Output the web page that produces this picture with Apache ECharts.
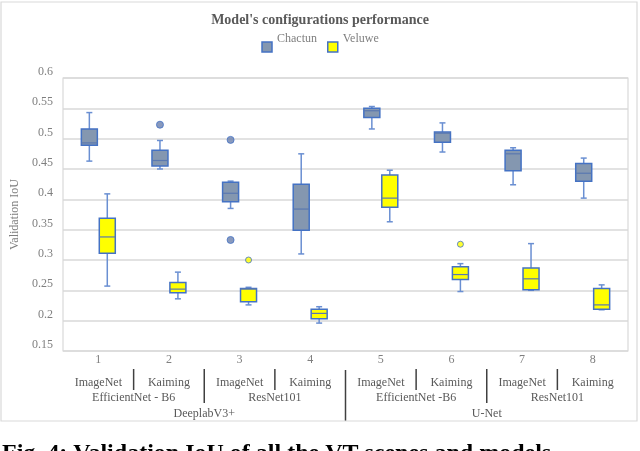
<!DOCTYPE html>
<html>
<head>
<meta charset="utf-8">
<script src="https://cdn.jsdelivr.net/npm/echarts@6/dist/echarts.min.js"></script>
<style>
  html, body { margin: 0; padding: 0; background: #fff; }
  #chart { width: 640px; height: 451px; }
</style>
</head>
<body>
<div id="chart"></div>
<script>
// categories and the label rows under them
const categories = ['1', '2', '3', '4', '5', '6', '7', '8'];
const initLabels = ['ImageNet', 'Kaiming', 'ImageNet', 'Kaiming', 'ImageNet', 'Kaiming', 'ImageNet', 'Kaiming'];
const backboneLabels = ['EfficientNet - B6', 'ResNet101', 'EfficientNet -B6', 'ResNet101'];
const archLabels = ['DeeplabV3+', 'U-Net'];

// [min, Q1, median, Q3, max]
const chactunBoxes = [
    [0.463, 0.489, 0.493, 0.516, 0.543],
    [0.450, 0.455, 0.464, 0.481, 0.497],
    [0.385, 0.396, 0.410, 0.428, 0.430],
    [0.310, 0.349, 0.384, 0.425, 0.475],
    [0.516, 0.535, 0.546, 0.550, 0.553],
    [0.478, 0.494, 0.509, 0.511, 0.526],
    [0.424, 0.447, 0.475, 0.481, 0.485],
    [0.402, 0.430, 0.443, 0.459, 0.468]
];
const veluweBoxes = [
    [0.257, 0.311, 0.338, 0.369, 0.409],
    [0.236, 0.246, 0.252, 0.263, 0.280],
    [0.226, 0.231, 0.252, 0.253, 0.255],
    [0.196, 0.203, 0.212, 0.219, 0.223],
    [0.363, 0.387, 0.402, 0.440, 0.448],
    [0.248, 0.268, 0.276, 0.289, 0.294],
    [0.250, 0.251, 0.269, 0.287, 0.327],
    [0.218, 0.219, 0.226, 0.253, 0.259]
];
// [category index, value]
const chactunOutliers = [[1, 0.523], [2, 0.498], [2, 0.333]];
const veluweOutliers = [[2, 0.300], [5, 0.326]];

const yMin = 0.15, yMax = 0.6, yStep = 0.05;

const FONT = 'Liberation Serif';
const TEXT = '#595959';
const LIGHT_TEXT = '#7f7f7f';
const BLUE = '#4472c4';
const WHISKER = '#6a8fd2';
const CHACTUN_FILL = '#8497b0';
const VELUWE_FILL = '#ffff00';
const GRID = { left: 63, right: 12, top: 78, bottom: 100 };
const SHIFT = 0.127; // box offset from category centre, share of band

const chart = echarts.init(document.getElementById('chart'));

function toRows(boxes) {
    return boxes.map((b, i) => [i].concat(b));
}

function boxRenderer(dir) {
    return function (params, api) {
        const cat = api.value(0);
        const band = api.size([1, 0])[0];
        const x = api.coord([cat, api.value(1)])[0] + dir * band * SHIFT;
        const y = i => api.coord([cat, api.value(i)])[1];
        const half = 8, cap = 3;
        const whisker = { stroke: WHISKER, lineWidth: 1.5 };
        return {
            type: 'group',
            children: [
                { type: 'line', shape: { x1: x, y1: y(5), x2: x, y2: y(4) }, style: whisker },
                { type: 'line', shape: { x1: x, y1: y(2), x2: x, y2: y(1) }, style: whisker },
                { type: 'line', shape: { x1: x - cap, y1: y(5), x2: x + cap, y2: y(5) }, style: whisker },
                { type: 'line', shape: { x1: x - cap, y1: y(1), x2: x + cap, y2: y(1) }, style: whisker },
                {
                    type: 'rect',
                    shape: { x: x - half, y: y(4), width: half * 2, height: y(2) - y(4) },
                    style: { fill: api.visual('color'), stroke: BLUE, lineWidth: 1.5 }
                },
                { type: 'line', shape: { x1: x - half, y1: y(3), x2: x + half, y2: y(3) }, style: { stroke: '#5a78b0', lineWidth: 1.2 } }
            ]
        };
    };
}

const bandPx = (640 - GRID.left - GRID.right) / categories.length;

function labelAxis(data, offset, margin) {
    return {
        type: 'category',
        data: data,
        gridIndex: 0,
        position: 'bottom',
        offset: offset,
        axisLine: { show: false },
        axisTick: { show: false },
        splitLine: { show: false },
        axisLabel: { interval: 0, margin: margin, fontFamily: FONT, fontSize: 12, color: TEXT }
    };
}

const option = {
    backgroundColor: '#fff',
    animation: false,
    title: {
        text: "Model's configurations performance",
        left: 'center',
        top: 8,
        textStyle: { fontFamily: FONT, fontSize: 14, fontWeight: 'bold', color: TEXT }
    },
    legend: {
        top: 28,
        left: 'center',
        itemWidth: 10,
        itemHeight: 10,
        itemGap: 10,
        formatter: name => '{t|' + name + '}',
        textStyle: {
            rich: {
                t: { fontFamily: FONT, fontSize: 12, color: LIGHT_TEXT, padding: [0, 0, 16, 0] }
            }
        },
        data: [
            { name: 'Chactun', icon: 'rect', itemStyle: { color: CHACTUN_FILL, borderColor: BLUE, borderWidth: 1.5 } },
            { name: 'Veluwe', icon: 'rect', itemStyle: { color: VELUWE_FILL, borderColor: BLUE, borderWidth: 1.5 } }
        ]
    },
    grid: {
        left: GRID.left, right: GRID.right, top: GRID.top, bottom: GRID.bottom,
        show: true, borderColor: '#d9d9d9', borderWidth: 1.2
    },
    xAxis: [
        {
            type: 'category',
            data: categories,
            gridIndex: 0,
            axisLine: { show: false },
            axisTick: { show: false },
            axisLabel: { margin: 3, fontFamily: FONT, fontSize: 12, color: LIGHT_TEXT }
        },
        labelAxis(initLabels, 17, 9),
        labelAxis(backboneLabels, 17, 24),
        labelAxis(archLabels, 17, 40)
    ],
    yAxis: {
        type: 'value',
        min: yMin,
        max: yMax,
        interval: yStep,
        name: 'Validation IoU',
        nameLocation: 'middle',
        nameGap: 40,
        nameTextStyle: { fontFamily: FONT, fontSize: 12, color: LIGHT_TEXT },
        axisLine: { show: false },
        axisTick: { show: false },
        axisLabel: { margin: 10, verticalAlign: 'bottom', fontFamily: FONT, fontSize: 12, color: LIGHT_TEXT },
        splitLine: { lineStyle: { color: '#d9d9d9', width: 1.5 } }
    },
    series: [
        {
            name: 'Chactun',
            type: 'custom',
            renderItem: boxRenderer(-1),
            itemStyle: { color: CHACTUN_FILL },
            encode: { x: 0, y: [1, 2, 3, 4, 5] },
            data: toRows(chactunBoxes),
            z: 3
        },
        {
            name: 'Veluwe',
            type: 'custom',
            renderItem: boxRenderer(1),
            itemStyle: { color: VELUWE_FILL },
            encode: { x: 0, y: [1, 2, 3, 4, 5] },
            data: toRows(veluweBoxes),
            z: 3
        },
        {
            name: 'Chactun outliers',
            type: 'scatter',
            symbol: 'circle',
            symbolSize: 7,
            symbolOffset: [-bandPx * SHIFT, 0],
            itemStyle: { color: '#6a80ad', borderColor: BLUE, borderWidth: 1 },
            data: chactunOutliers,
            z: 4
        },
        {
            name: 'Veluwe outliers',
            type: 'scatter',
            symbol: 'circle',
            symbolSize: 6,
            symbolOffset: [bandPx * SHIFT, 0],
            itemStyle: { color: VELUWE_FILL, borderColor: BLUE, borderWidth: 1 },
            data: veluweOutliers,
            z: 4
        }
    ]
};

chart.setOption(option);

// separators between label groups, at category boundaries
function boundaryX(k) {
    const a = chart.convertToPixel({ xAxisIndex: 0 }, k - 1);
    const b = chart.convertToPixel({ xAxisIndex: 0 }, k);
    return (a + b) / 2;
}
const sepStyle = { stroke: '#404040', lineWidth: 1.5 };
const separators = [];
[1, 3, 5, 7].forEach(k => separators.push({ type: 'line', shape: { x1: boundaryX(k), y1: 369, x2: boundaryX(k), y2: 390 }, style: sepStyle }));
[2, 6].forEach(k => separators.push({ type: 'line', shape: { x1: boundaryX(k), y1: 369, x2: boundaryX(k), y2: 403 }, style: sepStyle }));
separators.push({ type: 'line', shape: { x1: boundaryX(4), y1: 370, x2: boundaryX(4), y2: 421 }, style: sepStyle });

chart.setOption({
    graphic: separators.concat([
        {
            type: 'rect',
            shape: { x: 1, y: 2, width: 636, height: 419 },
            style: { fill: null, stroke: '#d9d9d9', lineWidth: 1.2 },
            silent: true
        },
        {
            type: 'text',
            left: 2,
            top: 442,
            style: {
                text: 'Fig. 4: Validation IoU of all the VT scenes and models',
                font: 'bold 24px "Liberation Serif"',
                fill: '#000'
            }
        }
    ])
});
</script>
</body>
</html>
